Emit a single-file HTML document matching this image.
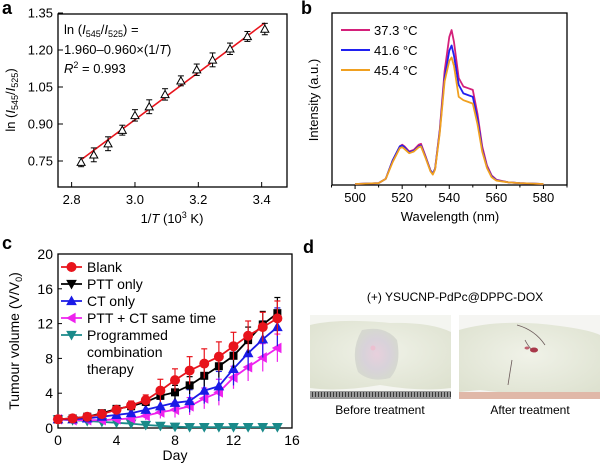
<!DOCTYPE html>
<html><head><meta charset="utf-8"><style>
body{margin:0;background:#fff;}
svg{display:block;font-family:"Liberation Sans",Arial,sans-serif;}
</style></head><body>
<svg id="fig" width="600" height="468" viewBox="0 0 600 468">
<defs>
<radialGradient id="skin1" cx="0.5" cy="0.45" r="0.7"><stop offset="0" stop-color="#f0f2e8"/><stop offset="1" stop-color="#dde1cf"/></radialGradient>
<radialGradient id="tum" cx="0.5" cy="0.5" r="0.5"><stop offset="0" stop-color="#e8d0dc"/><stop offset="0.6" stop-color="#d8d2da"/><stop offset="1" stop-color="#d6d8d0"/></radialGradient>
<pattern id="ruler" width="3" height="8" patternUnits="userSpaceOnUse"><rect width="3" height="8" fill="#9a9a9a"/><rect width="1" height="5" fill="#3a3a3a"/></pattern>
</defs>
<g id="pa"></g>
<g id="pb"></g>
<g id="pc"></g>
<g id="pd">
  <text x="303" y="253" font-size="18" font-weight="bold">d</text>
  <text x="455" y="301" font-size="12" text-anchor="middle">(+) YSUCNP-PdPc@DPPC-DOX</text>
  <g>
    <rect x="310" y="315" width="141" height="84" fill="#f4f5f0"/>
    <path d="M310 325 Q340 318 390 323 Q430 322 451 332 L451 388 Q420 392 380 385 Q340 392 310 388Z" fill="url(#skin1)"/>
    <path d="M362 330 Q385 325 397 340 Q402 365 390 378 Q370 383 358 372 Q350 350 362 330Z" fill="url(#tum)"/>
    <circle cx="373" cy="348" r="2.5" fill="#ecc0d0"/>
    <rect x="310" y="391" width="141" height="8" fill="url(#ruler)"/>
  </g>
  <g>
    <rect x="459" y="315" width="141" height="84" fill="#f5f5f2"/>
    <path d="M459 330 Q500 318 560 326 Q590 330 600 335 L600 392 Q540 398 480 390 L459 392Z" fill="url(#skin1)"/>
    <path d="M517 325 Q535 330 545 345 M525 340 Q530 350 536 352 M512 360 Q510 372 508 385" stroke="#6b5a5a" stroke-width="0.8" fill="none"/>
    <ellipse cx="534" cy="350" rx="4" ry="2.5" fill="#a8384a"/>
    <ellipse cx="527" cy="348" rx="2.5" ry="1.5" fill="#c06070"/>
    <rect x="459" y="392" width="141" height="7" fill="#e0b8a8"/>
  </g>
  <text x="380" y="414" font-size="12" text-anchor="middle">Before treatment</text>
  <text x="530" y="414" font-size="12" text-anchor="middle">After treatment</text>
</g>
</svg>
<script>
const NS="http://www.w3.org/2000/svg";
function mk(parent,tag,attrs,txt){const e=document.createElementNS(NS,tag);for(const k in attrs)e.setAttribute(k,attrs[k]);if(txt!==undefined)e.textContent=txt;parent.appendChild(e);return e;}

// ---------- Panel a data ----------
const aX=[2.83,2.87,2.915,2.96,3.0,3.045,3.095,3.145,3.195,3.245,3.30,3.355,3.41];
const aY=[0.745,0.775,0.82,0.875,0.935,0.97,1.02,1.075,1.12,1.16,1.205,1.255,1.285];
const aErr=[0.01,0.02,0.02,0.012,0.015,0.02,0.015,0.012,0.015,0.02,0.015,0.012,0.015];
const aFitX=[2.83,3.41];
const aFitY=[0.755,1.31];
const aXTicks=[2.8,3.0,3.2,3.4];
const aYTicks=[0.75,0.90,1.05,1.20,1.35];
// ---------- Panel b data ----------
const bWl=[500,510,513,516,519,520,521,523,525,527,528,530,532,533,534,536,538,540,541,542,544,546,548,550,552,554,556,558,560,565,570,580];
const b373=[0,0.005,0.03,0.14,0.22,0.23,0.22,0.19,0.2,0.23,0.235,0.16,0.08,0.06,0.09,0.32,0.66,0.86,0.9,0.83,0.62,0.57,0.56,0.55,0.41,0.22,0.11,0.05,0.025,0.01,0.005,0];
const b416=[0,0.005,0.03,0.14,0.22,0.225,0.215,0.185,0.195,0.22,0.225,0.155,0.08,0.06,0.09,0.31,0.62,0.78,0.81,0.75,0.58,0.53,0.52,0.51,0.38,0.2,0.1,0.045,0.022,0.01,0.005,0];
const b454=[0,0.005,0.03,0.13,0.21,0.215,0.205,0.18,0.19,0.215,0.22,0.15,0.075,0.055,0.085,0.3,0.6,0.72,0.74,0.69,0.51,0.49,0.48,0.47,0.35,0.19,0.095,0.04,0.02,0.01,0.005,0];
const bXTicks=[500,520,540,560,580];
// ---------- Panel c data ----------
const cDays=[0,1,2,3,4,5,6,7,8,9,10,11,12,13,14,15];
const cBlank=[1,1.1,1.3,1.6,2.1,2.6,3.2,4.3,5.5,6.6,7.4,8.2,9.4,10.6,11.6,12.6];
const cBlankErr=[0.2,0.2,0.3,0.3,0.4,0.5,0.6,1.3,1.3,1.6,1.7,1.7,1.6,1.7,1.7,2.0];
const cPtt=[1,1.1,1.3,1.7,2.2,2.5,3.0,3.7,4.1,4.9,6.0,7.1,8.3,10.1,11.9,13.2];
const cPttErr=[0.2,0.2,0.2,0.3,0.3,0.4,0.5,0.6,0.8,1.0,1.2,1.3,1.4,1.5,1.5,1.8];
const cCt=[1,1.0,1.1,1.3,1.5,1.7,2.1,2.5,2.9,3.1,4.3,4.8,6.8,8.6,10.2,11.6];
const cCtErr=[0.2,0.2,0.2,0.2,0.3,0.4,0.5,0.8,1.0,1.3,1.5,1.7,1.9,2.0,2.1,2.2];
const cCombo=[1,0.9,0.9,0.9,1.0,1.1,1.4,1.8,2.1,2.5,3.4,4.1,5.8,7.0,8.1,9.2];
const cComboErr=[0.2,0.2,0.2,0.3,0.3,0.4,0.5,0.7,0.9,1.0,1.2,1.5,1.3,1.6,1.6,1.6];
const cProg=[1,0.9,0.8,0.7,0.6,0.5,0.35,0.25,0.15,0.1,0.1,0.1,0.1,0.1,0.1,0.1];
const cXTicks=[0,4,8,12,16];
const cYTicks=[0,4,8,12,16,20];

function tri(g,x,y,s,dir,fill,stroke){
  let p;
  if(dir==='up')p=[[x,y-s],[x+s,y+s*0.8],[x-s,y+s*0.8]];
  else if(dir==='down')p=[[x,y+s],[x+s,y-s*0.8],[x-s,y-s*0.8]];
  else p=[[x-s,y],[x+s*0.8,y-s],[x+s*0.8,y+s]];
  return mk(g,'polygon',{points:p.map(q=>q.join(',')).join(' '),fill:fill,stroke:stroke,'stroke-width':1});
}

// ---------- Panel a ----------
(function(){
const g=document.getElementById('pa');
const L=58,R=287,T=14,B=187;
const xs=v=>L+(v-2.757)/(3.48-2.757)*(R-L);
const ys=v=>161-(v-0.75)/0.15*37;
mk(g,'text',{x:2,y:14,'font-size':18,'font-weight':'bold',},'a');
mk(g,'rect',{x:L,y:T,width:R-L,height:B-T,fill:'none',stroke:'#000','stroke-width':1.3,});
aYTicks.forEach(v=>{const y=ys(v);mk(g,'line',{x1:L,x2:L+5,y1:y,y2:y,stroke:'#000'});
 const t=mk(g,'text',{x:L-5,y:y+4.5,'font-size':13,'text-anchor':'end'},v.toFixed(2));});
aXTicks.forEach(v=>{const x=xs(v);mk(g,'line',{x1:x,x2:x,y1:B,y2:B-5,stroke:'#000'});
 const t=mk(g,'text',{x:x,y:B+17,'font-size':13,'text-anchor':'middle'},v.toFixed(1));});
const fit=mk(g,'line',{x1:xs(aFitX[0]),y1:ys(aFitY[0]),x2:xs(aFitX[1]),y2:ys(aFitY[1]),stroke:'#e8141c','stroke-width':1.6});

aX.forEach((v,i)=>{const x=xs(v),y=ys(aY[i]),e=aErr[i]/0.15*37;
 mk(g,'line',{x1:x,x2:x,y1:y-e-2,y2:y+e+2,stroke:'#000'});
 mk(g,'line',{x1:x-3,x2:x+3,y1:y-e-2,y2:y-e-2,stroke:'#000'});
 mk(g,'line',{x1:x-3,x2:x+3,y1:y+e+2,y2:y+e+2,stroke:'#000'});
 const p=tri(g,x,y,4,'up','#fff','#000');});
const eq=mk(g,'g',{});
eq.innerHTML='<text x="64" y="34" font-size="13">ln (<tspan font-style="italic">I</tspan><tspan font-size="9" dy="3">545</tspan><tspan dy="-3">/</tspan><tspan font-style="italic">I</tspan><tspan font-size="9" dy="3">525</tspan><tspan dy="-3">) =</tspan></text><text x="64" y="54" font-size="13">1.960–0.960×(1/<tspan font-style="italic">T</tspan>)</text><text x="64" y="73" font-size="13"><tspan font-style="italic">R</tspan><tspan font-size="9" dy="-5">2</tspan><tspan dy="5"> = 0.993</tspan></text>';
const yl=mk(g,'text',{transform:'translate(15,100) rotate(-90)','font-size':13,'text-anchor':'middle'});

yl.innerHTML='ln (<tspan font-style="italic">I</tspan><tspan font-size="9" dy="3">545</tspan><tspan dy="-3">/</tspan><tspan font-style="italic">I</tspan><tspan font-size="9" dy="3">525</tspan><tspan dy="-3">)</tspan>';
const xl=mk(g,'text',{x:172,y:223,'font-size':13,'text-anchor':'middle'});

xl.innerHTML='1/<tspan font-style="italic">T</tspan> (10<tspan font-size="9" dy="-5">3</tspan><tspan dy="5"> K)</tspan>';
})();

// ---------- Panel b ----------
(function(){
const g=document.getElementById('pb');
const L=332,R=567,T=13,B=185;
const xs=v=>L+(v-490.2)/(590-490.2)*(R-L);
const ys=v=>B-1-v*171;
mk(g,'text',{x:301,y:14,'font-size':18,'font-weight':'bold',},'b');
mk(g,'rect',{x:L,y:T,width:R-L,height:B-T,fill:'none',stroke:'#000','stroke-width':1.3,});
bXTicks.forEach(v=>{const x=xs(v);mk(g,'line',{x1:x,x2:x,y1:B,y2:B+4,stroke:'#000'});
 const t=mk(g,'text',{x:x,y:B+17,'font-size':13,'text-anchor':'middle'},String(v));});
for(let v=490;v<=590;v+=10){if(v%20){const x=xs(v);mk(g,'line',{x1:x,x2:x,y1:B,y2:B+2.5,stroke:'#000'});}}
const series=[[b373,'#d4207a','37.3 °C','spectrum-37-3'],[b416,'#2020f0','41.6 °C','spectrum-41-6'],[b454,'#f0a020','45.4 °C','spectrum-45-4']];
series.forEach((s,k)=>{const d=bWl.map((w,i)=>(i?'L':'M')+xs(w).toFixed(1)+','+ys(s[0][i]).toFixed(1)).join(' ');
 const p=mk(g,'path',{d:d,fill:'none',stroke:s[1],'stroke-width':1.8,'stroke-linejoin':'round'});
 
 const y=30+k*20;
 const ln=mk(g,'line',{x1:341,x2:370,y1:y,y2:y,stroke:s[1],'stroke-width':2});
 const t=mk(g,'text',{x:374,y:y+5,'font-size':13},s[2]);});
const yl=mk(g,'text',{transform:'translate(318,100) rotate(-90)','font-size':13,'text-anchor':'middle'},'Intensity (a.u.)');

const xl=mk(g,'text',{x:450,y:221,'font-size':13,'text-anchor':'middle'},'Wavelength (nm)');

})();

// ---------- Panel c ----------
(function(){
const g=document.getElementById('pc');
const L=58,R=292,T=254,B=428;
const xs=v=>L+v/16*(R-L);
const ys=v=>B-v/20*(B-T);
mk(g,'text',{x:2,y:249,'font-size':18,'font-weight':'bold',},'c');
mk(g,'rect',{x:L,y:T,width:R-L,height:B-T,fill:'none',stroke:'#000','stroke-width':1.3,});
cYTicks.forEach(v=>{const y=ys(v);mk(g,'line',{x1:L,x2:L+4,y1:y,y2:y,stroke:'#000'});
 const t=mk(g,'text',{x:L-5,y:y+5,'font-size':14,'text-anchor':'end'},String(v));});
cXTicks.forEach(v=>{const x=xs(v);mk(g,'line',{x1:x,x2:x,y1:B,y2:B-4,stroke:'#000'});
 const t=mk(g,'text',{x:x,y:B+17,'font-size':14,'text-anchor':'middle'},String(v));});
const S=[
 [cBlank,cBlankErr,'#e8141c','circle','series-blank'],
 [cPtt,cPttErr,'#000','square','series-ptt-only'],
 [cCt,cCtErr,'#1a1ae6','up','series-ct-only'],
 [cCombo,cComboErr,'#ee22ee','left','series-ptt-ct-same-time'],
 [cProg,null,'#1a8a8a','down','series-programmed-combination']];
function marker(gg,x,y,type,c){
 if(type==='circle')return mk(gg,'circle',{cx:x,cy:y,r:4.5,fill:c,stroke:c});
 if(type==='square')return mk(gg,'rect',{x:x-4,y:y-4,width:8,height:8,fill:'#000'});
 return tri(gg,x,y,4.5,type,c,c);}
S.slice().reverse().forEach(s=>{
 const gg=mk(g,'g',{});
 if(s[1])cDays.forEach((d,i)=>{const x=xs(d),y1=ys(s[0][i]+s[1][i]),y2=ys(s[0][i]-s[1][i]);
  mk(gg,'line',{x1:x,x2:x,y1:y1,y2:y2,stroke:s[2],'stroke-width':1.2});
  mk(gg,'line',{x1:x-3,x2:x+3,y1:y1,y2:y1,stroke:s[2],'stroke-width':1.2});});
 mk(gg,'path',{d:cDays.map((d,i)=>(i?'L':'M')+xs(d).toFixed(1)+','+ys(s[0][i]).toFixed(1)).join(' '),fill:'none',stroke:s[2],'stroke-width':1.8});
 cDays.forEach((d,i)=>{const m=marker(gg,xs(d),ys(s[0][i]),s[3],s[2]);});
});
const labels=['Blank','PTT only','CT only','PTT + CT same time','Programmed'];
S.forEach((s,k)=>{const y=267+k*17;
 const lg=mk(g,'g',{});
 mk(lg,'line',{x1:61,x2:82,y1:y,y2:y,stroke:s[2],'stroke-width':1.8});
 marker(lg,71.5,y,s[3]==='square'?'down':s[3],s[2]);
 mk(lg,'text',{x:87,y:y+5,'font-size':14},labels[k]);});
const t2=mk(g,'text',{x:87,y:357,'font-size':14},'combination');
const t3=mk(g,'text',{x:87,y:374,'font-size':14},'therapy');
const yl=mk(g,'text',{transform:'translate(19,341) rotate(-90)','font-size':14,'text-anchor':'middle'});

yl.innerHTML='Tumour volume (V/V<tspan font-size="9" dy="3">0</tspan><tspan dy="-3">)</tspan>';
const xl=mk(g,'text',{x:175,y:460,'font-size':14,'text-anchor':'middle'},'Day');

})();
</script>
</body></html>
